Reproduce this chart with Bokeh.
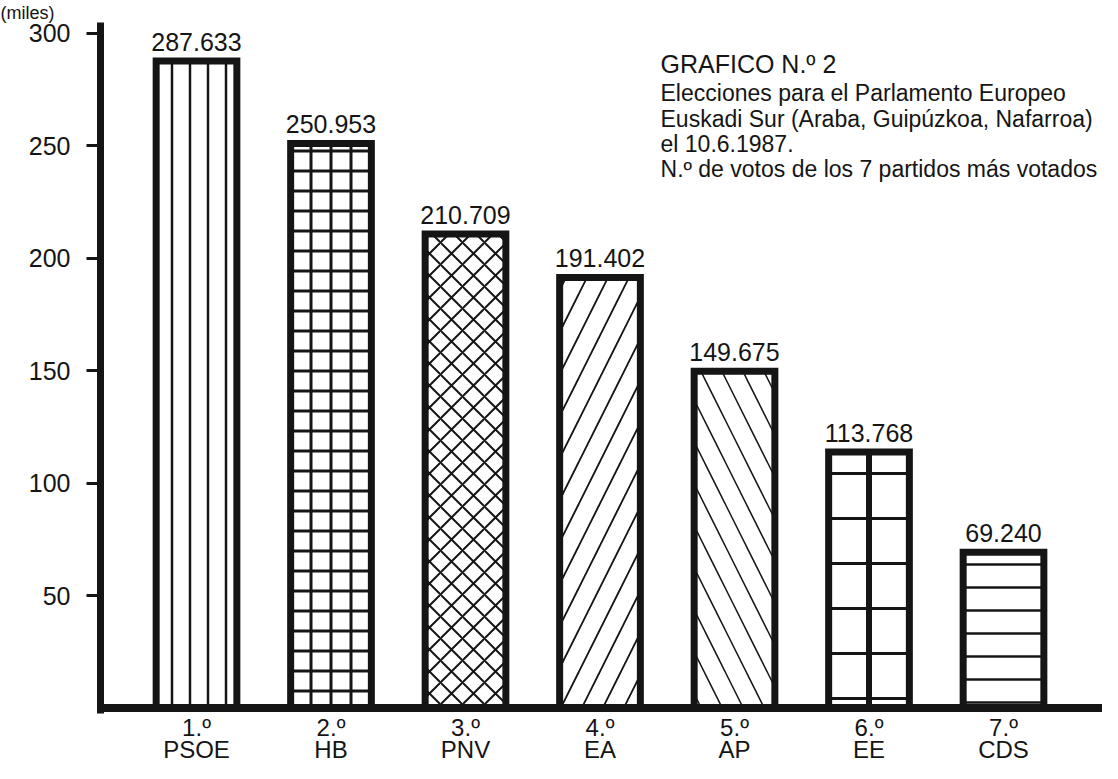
from bokeh.plotting import figure
from bokeh.models import Range1d, FixedTicker, ColumnDataSource, LabelSet, Label, Span
from bokeh.core.properties import value
from bokeh.embed import file_html
from bokeh.resources import INLINE

# ---------------- data ----------------
ranks = ["1.º", "2.º", "3.º", "4.º", "5.º", "6.º", "7.º"]
parties = ["PSOE", "HB", "PNV", "EA", "AP", "EE", "CDS"]
votes = [287.633, 250.953, 210.709, 191.402, 149.675, 113.768, 69.240]  # miles de votos
y_ticks = [50, 100, 150, 200, 250, 300]

title_lines = [
    "GRAFICO N.º 2",
    "Elecciones para el Parlamento Europeo",
    "Euskadi Sur (Araba, Guipúzkoa, Nafarroa)",
    "el 10.6.1987.",
    "N.º de votos de los 7 partidos más votados",
]
axis_title = "(miles)"

# ---------------- styles ----------------
patterns = ["vertical_line", "cross", "diagonal_cross", "right_diagonal_line",
            "left_diagonal_line", "horizontal_line", "horizontal_line"]
pat_scale = [18, 20, 22, 42, 42, 45, 23]
pat_weight = [2.5, 3, 2, 1.8, 1.5, 3, 2.5]

FONT = "Liberation Sans"
INK = "#151515"

xs = list(range(1, len(parties) + 1))
labels = [f"{v:.3f}" for v in votes]

src = ColumnDataSource(dict(x=xs, top=votes, lab=labels, pat=patterns,
                            sc=pat_scale, wt=pat_weight,
                            base=[0] * len(xs), rank=ranks, party=parties))

Y_TOP = 304.7
p = figure(width=1102, height=763, output_backend="svg", toolbar_location=None,
           title=axis_title, x_axis_location=None,
           x_range=Range1d(0.2862, 7.736), y_range=Range1d(-24.67, Y_TOP),
           min_border_left=100, min_border_right=0, min_border_top=0,
           min_border_bottom=0)
p.outline_line_color = None
p.grid.visible = False
p.background_fill_color = "white"

p.title.align = "left"
p.title.offset = -100
p.title.standoff = 0
p.title.text_font = FONT
p.title.text_font_size = "18px"
p.title.text_font_style = "normal"
p.title.text_color = INK

p.vbar(x="x", top="top", bottom=0, width=0.6, source=src,
       fill_color="white", line_color=INK, line_width=7, line_join="miter",
       hatch_pattern="pat", hatch_scale="sc", hatch_weight="wt",
       hatch_color=INK)

# EE: central vertical divider
ee = parties.index("EE")
p.segment(x0=[xs[ee]], y0=[0], x1=[xs[ee]], y1=[votes[ee]],
          line_color=INK, line_width=6)

# baseline (x axis line)
p.add_layout(Span(location=0, dimension="width", line_color=INK, line_width=8))

# value labels
p.add_layout(LabelSet(x="x", y="top", text="lab", source=src, y_offset=10,
                      text_align="center", text_baseline="alphabetic",
                      text_font=value(FONT), text_font_size="25px",
                      text_color=INK))

# category labels under the baseline (rank + party)
p.add_layout(LabelSet(x="x", y="base", text="rank", source=src, y_offset=-28,
                      text_align="center", text_baseline="alphabetic",
                      text_font=value(FONT), text_font_size="24px",
                      text_color=INK))
p.add_layout(LabelSet(x="x", y="base", text="party", source=src, y_offset=-50,
                      text_align="center", text_baseline="alphabetic",
                      text_font=value(FONT), text_font_size="24px",
                      text_color=INK))

# y axis
ya = p.yaxis[0]
ya.ticker = FixedTicker(ticks=y_ticks)
ya.bounds = (-2.4, Y_TOP)
ya.axis_line_width = 7
ya.axis_line_color = INK
ya.major_tick_out = 14
ya.major_tick_in = 0
ya.major_tick_line_width = 3
ya.major_tick_line_color = INK
ya.minor_tick_line_color = None
ya.major_label_standoff = 16
ya.major_label_text_font = FONT
ya.major_label_text_font_size = "25px"
ya.major_label_text_color = INK

# title block
offsets = [0, -29, -55, -80, -105]
for i, (t, off) in enumerate(zip(title_lines, offsets)):
    p.add_layout(Label(x=4.45, y=286.1, y_offset=off, text=t,
                       text_font=FONT, text_font_size="25px" if i == 0 else "23px",
                       text_color=INK, text_baseline="alphabetic"))

open("out.html", "w").write(file_html(p, INLINE))
